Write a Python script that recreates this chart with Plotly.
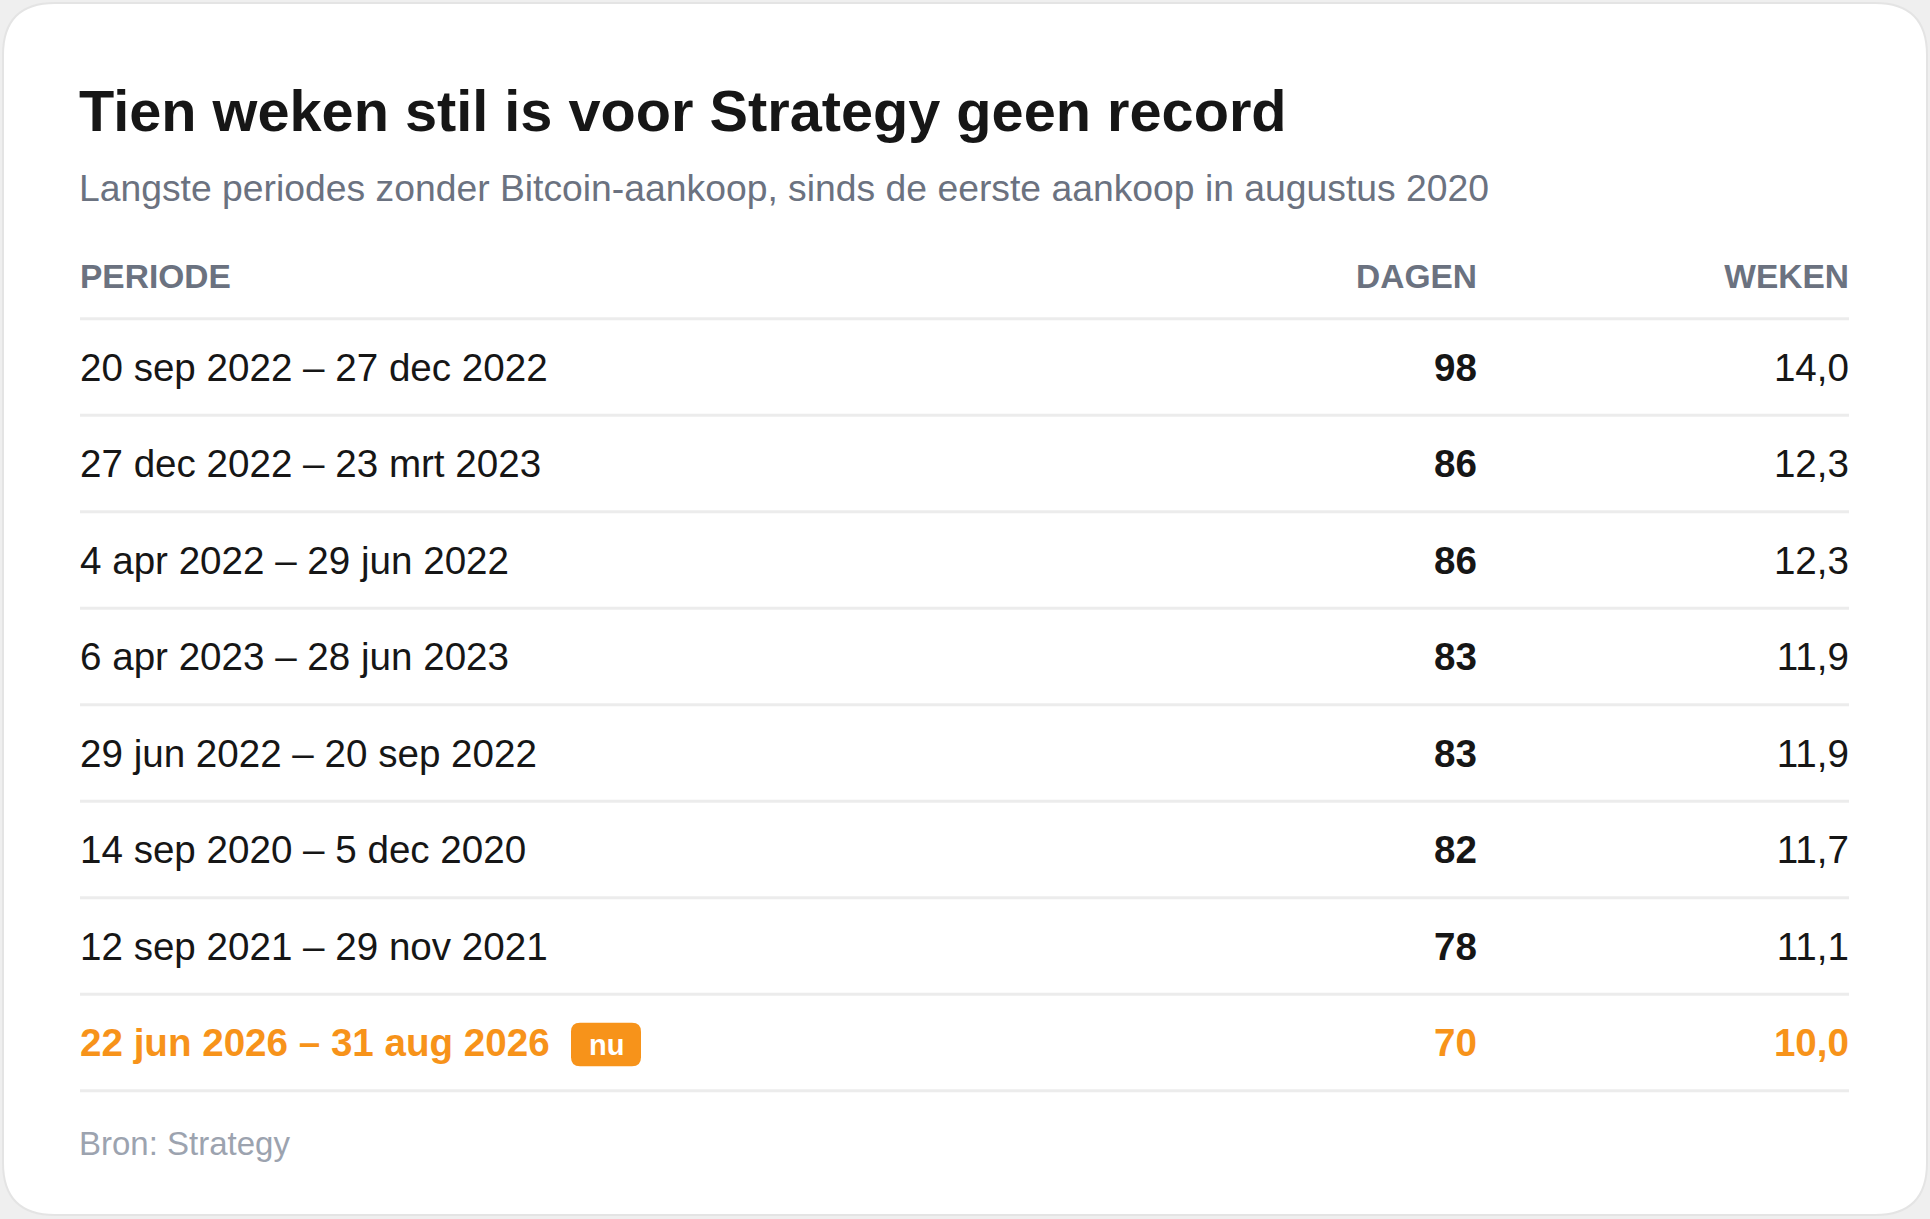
import plotly.graph_objects as go

periodes = ["20 sep 2022 – 27 dec 2022", "27 dec 2022 – 23 mrt 2023", "4 apr 2022 – 29 jun 2022",
            "6 apr 2023 – 28 jun 2023", "29 jun 2022 – 20 sep 2022", "14 sep 2020 – 5 dec 2020",
            "12 sep 2021 – 29 nov 2021", "22 jun 2026 – 31 aug 2026"]
dagen = [98, 86, 86, 83, 83, 82, 78, 70]
weken = ["14,0", "12,3", "12,3", "11,9", "11,9", "11,7", "11,1", "10,0"]
huidig = [False, False, False, False, False, False, False, True]
kolommen = ["PERIODE", "DAGEN", "WEKEN"]

titel = "Tien weken stil is voor Strategy geen record"
ondertitel = "Langste periodes zonder Bitcoin-aankoop, sinds de eerste aankoop in augustus 2020"
bron = "Bron: Strategy"

W, H = 1930, 1219
ROW0, PITCH = 367, 96.5          # pixel centre of first row, row height
TXT_OFF = 4 / PITCH              # text sits a touch lower than the row centre
X_LEFT, X_DAGEN, X_WEKEN = 80, 1477, 1849
FONT = "Liberation Sans, Arial, Helvetica, sans-serif"
ORANJE = "#f7931a"
ZWART = "#161616"
GRIJS = "#6b7280"
LIJN = "#ececec"


def py(px):
    # pixel row -> row units on the y axis
    return (px - ROW0) / PITCH


def paper_y(px):
    return 1 - px / H


n = len(periodes)
rows = [i + TXT_OFF for i in range(n)]
kleur = [ORANJE if h else ZWART for h in huidig]

fig = go.Figure()

# periode column
fig.add_trace(go.Scatter(
    x=[X_LEFT] * n, y=rows, mode="text",
    text=[f"<b>{p}</b>" if h else p for p, h in zip(periodes, huidig)],
    textposition="middle right",
    textfont=dict(family=FONT, size=38.6, color=kleur),
    hoverinfo="skip", showlegend=False, cliponaxis=False))

# dagen column
fig.add_trace(go.Scatter(
    x=[X_DAGEN] * n, y=rows, mode="text",
    text=[f"<b>{d}</b>" for d in dagen],
    textposition="middle left",
    textfont=dict(family=FONT, size=38.6, color=kleur),
    hoverinfo="skip", showlegend=False, cliponaxis=False))

# weken column
fig.add_trace(go.Scatter(
    x=[X_WEKEN] * n, y=rows, mode="text",
    text=[f"<b>{w}</b>" if h else w for w, h in zip(weken, huidig)],
    textposition="middle left",
    textfont=dict(family=FONT, size=38.6, color=kleur),
    hoverinfo="skip", showlegend=False, cliponaxis=False))

# header row
fig.add_trace(go.Scatter(
    x=[X_LEFT, X_DAGEN, X_WEKEN], y=[py(280)] * 3, mode="text",
    text=[f"<b>{k}</b>" for k in kolommen],
    textposition=["middle right", "middle left", "middle left"],
    textfont=dict(family=FONT, size=33.5, color=GRIJS),
    hoverinfo="skip", showlegend=False, cliponaxis=False))

shapes = []

# card
x0, x1, y0, y1, r = 3, 1927, 3, 1215, 52
ry = r / H
card = (f"M {x0 + r},{paper_y(y0)} L {x1 - r},{paper_y(y0)} "
        f"Q {x1},{paper_y(y0)} {x1},{paper_y(y0) - ry} "
        f"L {x1},{paper_y(y1) + ry} Q {x1},{paper_y(y1)} {x1 - r},{paper_y(y1)} "
        f"L {x0 + r},{paper_y(y1)} Q {x0},{paper_y(y1)} {x0},{paper_y(y1) + ry} "
        f"L {x0},{paper_y(y0) - ry} Q {x0},{paper_y(y0)} {x0 + r},{paper_y(y0)} Z")
shapes.append(dict(type="path", path=card, xref="x", yref="paper", layer="below",
                   fillcolor="white", line=dict(color="#e4e4e4", width=2)))

# separators: under header and under every row
for i in range(-1, n):
    shapes.append(dict(type="line", xref="x", yref="y", x0=X_LEFT, x1=X_WEKEN,
                       y0=i + 0.5, y1=i + 0.5, layer="below",
                       line=dict(color=LIJN, width=3)))

# "nu" badge on the current row
bi = huidig.index(True)
bc = bi + 2 / PITCH
bx0, bx1, bh, br = 571, 641, 0.225, 9
bry = br / PITCH
badge = (f"M {bx0 + br},{bc - bh} L {bx1 - br},{bc - bh} Q {bx1},{bc - bh} {bx1},{bc - bh + bry} "
         f"L {bx1},{bc + bh - bry} Q {bx1},{bc + bh} {bx1 - br},{bc + bh} "
         f"L {bx0 + br},{bc + bh} Q {bx0},{bc + bh} {bx0},{bc + bh - bry} "
         f"L {bx0},{bc - bh + bry} Q {bx0},{bc - bh} {bx0 + br},{bc - bh} Z")
shapes.append(dict(type="path", path=badge, xref="x", yref="y", layer="below",
                   fillcolor=ORANJE, line=dict(width=0)))

annotations = [
    dict(text=f"<b>{titel}</b>", x=X_LEFT - 3, y=paper_y(111), xref="x", yref="paper",
         xanchor="left", yanchor="middle", showarrow=False,
         font=dict(family=FONT, size=57.7, color=ZWART)),
    dict(text=ondertitel, x=X_LEFT - 3, y=paper_y(188), xref="x", yref="paper",
         xanchor="left", yanchor="middle", showarrow=False,
         font=dict(family=FONT, size=37.3, color=GRIJS)),
    dict(text=bron, x=X_LEFT - 3, y=paper_y(1143), xref="x", yref="paper",
         xanchor="left", yanchor="middle", showarrow=False,
         font=dict(family=FONT, size=33, color="#9ca3af")),
    dict(text="<b>nu</b>", x=(bx0 + bx1) / 2, y=bc, xref="x", yref="y",
         xanchor="center", yanchor="middle", showarrow=False,
         font=dict(family=FONT, size=29, color="white")),
]

fig.update_layout(
    width=W, height=H,
    margin=dict(l=0, r=0, t=0, b=0, pad=0),
    paper_bgcolor="#efefef", plot_bgcolor="rgba(0,0,0,0)",
    xaxis=dict(range=[0, W], visible=False, fixedrange=True),
    yaxis=dict(range=[py(H), py(0)], visible=False, fixedrange=True),
    shapes=shapes, annotations=annotations,
)

fig.write_html("out.html", config={"displayModeBar": False},
               post_script="document.body.style.margin='0';document.body.style.overflow='hidden';")
